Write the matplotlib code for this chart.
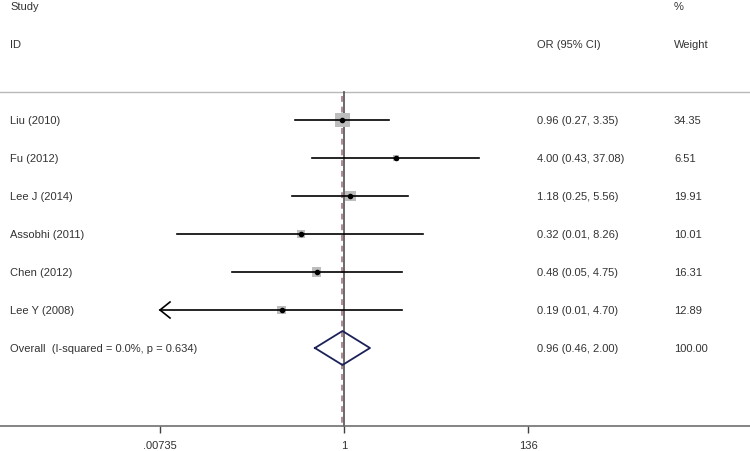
import numpy as np
import matplotlib
matplotlib.use("Agg")
import matplotlib.pyplot as plt
from matplotlib.transforms import blended_transform_factory

plt.rcParams['font.family'] = ['Liberation Sans', 'DejaVu Sans']

studies = ["Liu (2010)", "Fu (2012)", "Lee J (2014)", "Assobhi (2011)", "Chen (2012)", "Lee Y (2008)"]
or_vals = [0.96, 4.00, 1.18, 0.32, 0.48, 0.19]
ci_low = [0.27, 0.43, 0.25, 0.0116, 0.05, 0.005]
ci_high = [3.35, 37.08, 5.56, 8.26, 4.75, 4.70]
weights = [34.35, 6.51, 19.91, 10.01, 16.31, 12.89]
or_text = ["0.96 (0.27, 3.35)", "4.00 (0.43, 37.08)", "1.18 (0.25, 5.56)",
           "0.32 (0.01, 8.26)", "0.48 (0.05, 4.75)", "0.19 (0.01, 4.70)"]
weight_text = ["34.35", "6.51", "19.91", "10.01", "16.31", "12.89"]
overall_label = "Overall  (I-squared = 0.0%, p = 0.634)"
overall_or = 0.96
overall_low = 0.46
overall_high = 2.00
overall_text = "0.96 (0.46, 2.00)"
overall_weight = "100.00"
tick_vals = [0.00735, 1, 136]
tick_labels = [".00735", "1", "136"]

W, H = 750, 452
DPI = 100
fig = plt.figure(figsize=(W / DPI, H / DPI), dpi=DPI)
axis_px = 427
ax = fig.add_axes([0, (H - axis_px) / H, 1, axis_px / H])

# log x mapping: px = 344 + 37.45*ln(v)
x0px, k = 344.0, 37.45
xmin = np.exp((0 - x0px) / k)
xmax = np.exp((W - x0px) / k)
ax.set_xscale('log')
ax.set_xlim(xmin, xmax)

# y in row units: row i at px 121 + 38 i
y0, dy = 121.0, 38.0
def r(px):
    return (px - y0) / dy
ax.set_ylim(r(axis_px), r(0))

for s in ['top', 'left', 'right']:
    ax.spines[s].set_visible(False)
ax.spines['bottom'].set_color('#707070')
ax.spines['bottom'].set_linewidth(1.2)
ax.set_yticks([])
ax.set_xticks(tick_vals)
ax.set_xticklabels(tick_labels)
ax.minorticks_off()
ax.tick_params(axis='x', which='major', direction='out', length=5, width=1,
               color='#404040', labelsize=8, labelcolor='#303030', pad=5)

text_c = '#333333'
fs = 8
tr = blended_transform_factory(ax.transAxes, ax.transData)
def xf(px):
    return px / W

# headers
ax.text(xf(10), r(7), "Study", transform=tr, fontsize=fs, color=text_c, va='center', ha='left')
ax.text(xf(10), r(45), "ID", transform=tr, fontsize=fs, color=text_c, va='center', ha='left')
ax.text(xf(537), r(45), "OR (95% CI)", transform=tr, fontsize=fs, color=text_c, va='center', ha='left')
ax.text(xf(674), r(7), "%", transform=tr, fontsize=fs, color=text_c, va='center', ha='left')
ax.text(xf(674), r(45), "Weight", transform=tr, fontsize=fs, color=text_c, va='center', ha='left')
ax.axhline(r(93), color='#b8b8b8', lw=1)

n = len(studies)
rows = np.arange(n)
overall_row = n

# reference line at 1 and overall dashed line
ax.plot([1, 1], [r(93), r(axis_px)], color='#505050', lw=1.2, zorder=2, clip_on=False)
ax.plot([overall_or, overall_or], [r(97), r(axis_px)], color='#b08a94', lw=1.4,
        ls=(0, (3, 2.5)), zorder=2)

px_to_pt = 72.0 / DPI
for i in range(n):
    lo = max(ci_low[i], tick_vals[0])
    ax.plot([lo, ci_high[i]], [rows[i], rows[i]], color='black', lw=1.2, zorder=3)
    if ci_low[i] < tick_vals[0]:
        # open arrow head
        tip = np.log(lo)
        hx = np.exp(tip + 10 / k)
        ax.plot([hx, lo, hx], [rows[i] - 8 / dy, rows[i], rows[i] + 8 / dy],
                color='black', lw=1.2, zorder=3, solid_joinstyle='miter')
    side_px = 2.45 * np.sqrt(weights[i])
    ax.scatter([or_vals[i]], [rows[i]], marker='s', s=(side_px * px_to_pt) ** 2,
               color='#bdbdbd', edgecolors='none', zorder=2.5)
    ax.scatter([or_vals[i]], [rows[i]], marker='o', s=9, color='black', zorder=4)
    ax.text(xf(10), rows[i], studies[i], transform=tr, fontsize=fs, color=text_c, va='center', ha='left')
    ax.text(xf(537), rows[i], or_text[i], transform=tr, fontsize=fs, color=text_c, va='center', ha='left')
    ax.text(xf(674), rows[i], weight_text[i], transform=tr, fontsize=fs, color=text_c, va='center', ha='left')

# overall diamond
hh = 17 / dy
ax.plot([overall_low, overall_or, overall_high, overall_or, overall_low],
        [overall_row, overall_row - hh, overall_row, overall_row + hh, overall_row],
        color='#1c2257', lw=1.3, zorder=4)
ax.text(xf(10), overall_row, overall_label, transform=tr, fontsize=fs, color=text_c, va='center', ha='left')
ax.text(xf(537), overall_row, overall_text, transform=tr, fontsize=fs, color=text_c, va='center', ha='left')
ax.text(xf(674), overall_row, overall_weight, transform=tr, fontsize=fs, color=text_c, va='center', ha='left')

fig.savefig("out.png", dpi=DPI, facecolor='white')
